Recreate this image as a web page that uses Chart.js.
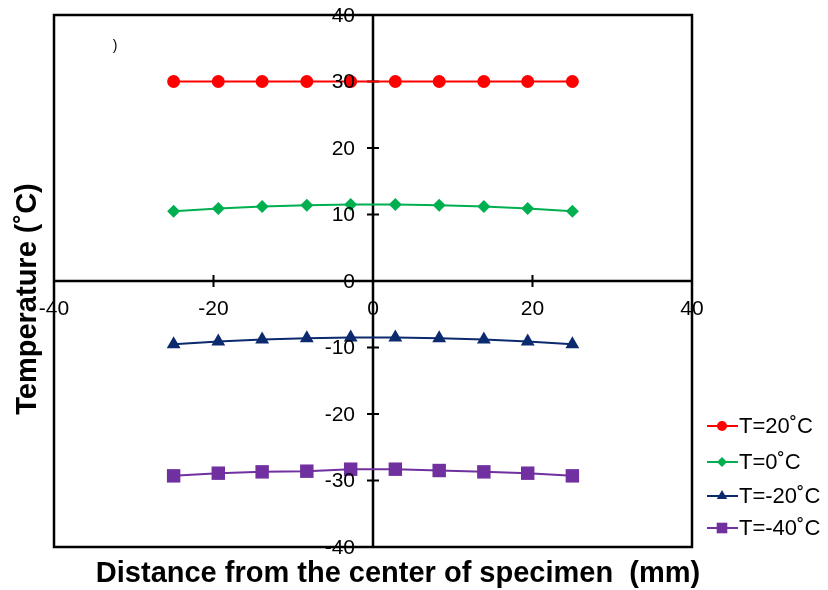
<!DOCTYPE html>
<html>
<head>
<meta charset="utf-8">
<script src="https://cdn.jsdelivr.net/npm/chart.js@4.4.0/dist/chart.umd.min.js"></script>
<style>
  html, body { margin: 0; padding: 0; background: #fff; }
  #wrap { width: 828px; height: 590px; position: relative; }
</style>
</head>
<body>
<div id="wrap"><canvas id="canvas" width="828" height="590"></canvas></div>
<script>
// positions across the specimen (mm)
var distance = [-25, -19.4, -13.9, -8.3, -2.8, 2.8, 8.3, 13.9, 19.4, 25];

var t20 = [30, 30, 30, 30, 30, 30, 30, 30, 30, 30];
var t0 = [10.5, 10.9, 11.2, 11.4, 11.5, 11.5, 11.4, 11.2, 10.9, 10.5];
var tm20 = [-9.5, -9.1, -8.8, -8.6, -8.5, -8.5, -8.6, -8.8, -9.1, -9.5];
var tm40 = [-29.3, -28.9, -28.7, -28.6, -28.3, -28.3, -28.5, -28.7, -28.9, -29.3];

var seriesLabels = ['T=20˚C', 'T=0˚C', 'T=-20˚C', 'T=-40˚C'];

var xTicks = [-40, -20, 0, 20, 40];
var yTicks = [-40, -30, -20, -10, 0, 10, 20, 30, 40];

function pts(ys) {
	var out = [];
	for (var i in distance) {
		out.push({x: distance[i], y: ys[i]});
	}
	return out;
}

// r = marker size on the plot, lr = marker size in the legend
var styles = [
	{color: '#ff0000', shape: 'circle', r: 6.5, lr: 5},
	{color: '#00b050', shape: 'rectRot', r: 6.5, lr: 5},
	{color: '#0c2a6e', shape: 'triangle', r: 8, lr: 6},
	{color: '#7030a0', shape: 'rect', r: 9.5, lr: 7.5}
];
var values = [t20, t0, tm20, tm40];

var datasets = [];
for (var k = 0; k < values.length; k++) {
	datasets.push({
		label: seriesLabels[k],
		data: pts(values[k]),
		showLine: true,
		borderColor: styles[k].color,
		backgroundColor: styles[k].color,
		borderWidth: 2,
		pointStyle: styles[k].shape,
		pointRadius: styles[k].r,
		pointBorderWidth: 0,
		tension: 0
	});
}

var FONT = '"Liberation Sans", Arial, sans-serif';

// axes, box, ticks, titles, legend
var decor = {
	id: 'decor',
	beforeDatasetsDraw: function(chart) {
		var ctx = chart.ctx;
		var xs = chart.scales.x, ys = chart.scales.y;
		var a = chart.chartArea;
		var x0 = xs.getPixelForValue(0), y0 = ys.getPixelForValue(0);
		ctx.save();
		ctx.strokeStyle = '#000';
		ctx.lineWidth = 2.5;
		ctx.strokeRect(a.left, a.top, a.right - a.left, a.bottom - a.top);
		ctx.beginPath();
		ctx.moveTo(a.left, y0); ctx.lineTo(a.right, y0);
		ctx.moveTo(x0, a.top); ctx.lineTo(x0, a.bottom);
		ctx.stroke();
		ctx.lineWidth = 2;
		ctx.beginPath();
		xTicks.forEach(function(v) {
			var px = xs.getPixelForValue(v);
			ctx.moveTo(px, y0 - 6); ctx.lineTo(px, y0 + 6);
		});
		yTicks.forEach(function(v) {
			var py = ys.getPixelForValue(v);
			ctx.moveTo(x0 - 6, py); ctx.lineTo(x0 + 6, py);
		});
		ctx.stroke();
		// stray mark from the original figure
		ctx.font = '14px ' + FONT;
		ctx.fillStyle = '#000';
		ctx.textAlign = 'center';
		ctx.textBaseline = 'middle';
		ctx.fillText(')', 115, 46);
		ctx.restore();
	},
	afterDatasetsDraw: function(chart) {
		var ctx = chart.ctx;
		var xs = chart.scales.x, ys = chart.scales.y;
		var x0 = xs.getPixelForValue(0), y0 = ys.getPixelForValue(0);
		ctx.save();
		ctx.fillStyle = '#000';
		ctx.font = '21px ' + FONT;
		ctx.textAlign = 'center';
		ctx.textBaseline = 'middle';
		xTicks.forEach(function(v) {
			ctx.fillText(String(v), xs.getPixelForValue(v), y0 + 28);
		});
		ctx.textAlign = 'right';
		yTicks.forEach(function(v) {
			ctx.fillText(String(v), x0 - 18, ys.getPixelForValue(v) + 1);
		});

		// axis titles
		ctx.font = 'bold 29px ' + FONT;
		ctx.textAlign = 'center';
		ctx.textBaseline = 'alphabetic';
		ctx.fillText('Distance from the center of specimen  (mm)', 398, 582);
		ctx.save();
		ctx.translate(36, 299);
		ctx.rotate(-Math.PI / 2);
		ctx.fillText('Temperature (˚C)', 0, 0);
		ctx.restore();

		// legend
		var ly = [426, 462, 496, 528];
		ctx.font = '22px ' + FONT;
		ctx.textAlign = 'left';
		ctx.textBaseline = 'middle';
		for (var k = 0; k < datasets.length; k++) {
			var st = styles[k];
			ctx.strokeStyle = st.color;
			ctx.fillStyle = st.color;
			ctx.lineWidth = 2;
			ctx.beginPath();
			ctx.moveTo(707, ly[k]); ctx.lineTo(738, ly[k]);
			ctx.stroke();
			Chart.helpers.drawPoint(ctx, {pointStyle: st.shape, radius: st.lr, borderWidth: 0}, 722, ly[k]);
			ctx.fillStyle = '#000';
			ctx.fillText(seriesLabels[k], 739, ly[k] + 1);
		}
		ctx.restore();
	}
};

var c = document.getElementById('canvas');
var chart = new Chart(c, {
	type: 'scatter',
	data: {datasets: datasets},
	options: {
		responsive: false,
		animation: false,
		layout: {padding: {left: 54, top: 15, right: 136, bottom: 43}},
		plugins: {legend: {display: false}, tooltip: {enabled: false}},
		scales: {
			x: {type: 'linear', min: -40, max: 40, display: false},
			y: {type: 'linear', min: -40, max: 40, display: false}
		}
	},
	plugins: [decor]
});
</script>
</body>
</html>
